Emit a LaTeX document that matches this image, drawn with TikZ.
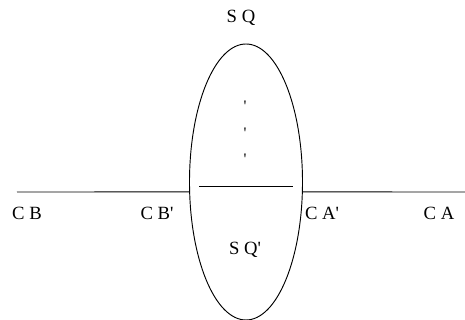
\documentclass[tikz,border=0pt]{standalone}
\usepackage{fontspec}
\setmainfont{Liberation Serif}
\usetikzlibrary{positioning, shapes.geometric}
\newcommand{\pr}{\textquotesingle}
\tikzset{
  region/.style={
    ellipse, draw, line width=0.7pt, inner sep=0pt, outer sep=0pt,
    minimum width=84.75pt, minimum height=207pt
  },
  name text/.style={font=\fontsize{14}{16}\selectfont, inner sep=0pt},
  mark text/.style={font=\fontsize{12}{14}\selectfont, inner sep=0pt, anchor=base},
  wire/.style={line width=0.7pt},
}

\begin{document}
\begin{tikzpicture}[x=0.75pt, y=-0.75pt]
  \useasboundingbox (0,0) rectangle (465,320);

  \node[region] (SQ) at (246,182) {};
  \coordinate (CBend) at (17,192);
  \coordinate (CAend) at (465,192);
  \coordinate (cutL) at (199,186);
  \coordinate (cutR) at (293,186);

  \draw[wire] (CBend) -- (SQ.190);
  \draw[wire] (SQ.-10) -- (CAend);
  \draw[wire] (cutL) -- (cutR);

  \foreach \y/\n in {112/1, 139/2, 165/3}
    \node[mark text] (dot\n) at (245,\y) {\pr};

  \node[name text] (SQtop) at (241,18) {S Q};
  \node[name text] (SQbot) at (245,250) {S Q\pr};
  \node[name text] (CB) at (27,213) {C B};
  \node[name text] (CBp) at (157,213) {C B\pr};
  \node[name text] (CAp) at (322,213) {C A\pr};
  \node[name text] (CA) at (439,213) {C A};
\end{tikzpicture}
\end{document}
